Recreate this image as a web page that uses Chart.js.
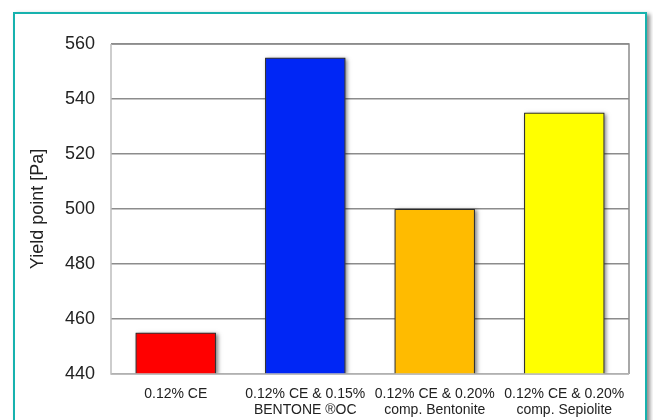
<!DOCTYPE html>
<html>
<head>
<meta charset="utf-8">
<script src="https://cdn.jsdelivr.net/npm/chart.js@4/dist/chart.umd.min.js"></script>
<style>
  html, body { margin: 0; padding: 0; background: #fff; overflow: hidden; }
  #frame {
    position: absolute; left: 13px; top: 12px; width: 630px; height: 460px;
    border: 2px solid #17b2ae; box-shadow: 3px 2px 4px rgba(0,0,0,0.45);
    background: #fff;
  }
  #wrap { position: absolute; left: 0; top: 0; width: 653px; height: 420px; }
</style>
</head>
<body>
<div id="frame"></div>
<div id="wrap"><canvas id="chart" width="653" height="420"></canvas></div>
<script>
const categories = [
    ['0.12% CE'],
    ['0.12% CE & 0.15%', 'BENTONE \u00AEOC'],
    ['0.12% CE & 0.20%', 'comp. Bentonite'],
    ['0.12% CE & 0.20%', 'comp. Sepiolite']
];
const yieldPoint = [455, 555, 500, 535];
const barColors = ['#ff0000', '#0026f5', '#ffbb00', '#ffff00'];
const yTicks = [440, 460, 480, 500, 520, 540, 560];

// soft drop shadow behind each bar, plus a box around the plot area
const barShadow = {
    id: 'barShadow',
    beforeDatasetsDraw(chart) {
        const { ctx, chartArea: a } = chart;
        const meta = chart.getDatasetMeta(0);
        ctx.save();
        ctx.beginPath();
        ctx.rect(a.left, a.top - 10, a.right - a.left, a.bottom - a.top + 10);
        ctx.clip();
        ctx.shadowColor = 'rgba(0,0,0,0.5)';
        ctx.shadowBlur = 4;
        ctx.shadowOffsetX = 2;
        ctx.shadowOffsetY = 1;
        ctx.fillStyle = '#555';
        meta.data.forEach(bar => {
            const p = bar.getProps(['x', 'y', 'width', 'base'], true);
            const bottom = Math.min(p.base, a.bottom);
            ctx.fillRect(p.x - p.width / 2, p.y, p.width, bottom - p.y);
        });
        ctx.restore();
    },
    afterDraw(chart) {
        const { ctx, chartArea: a } = chart;
        ctx.save();
        ctx.strokeStyle = '#8c8c8c';
        ctx.lineWidth = 1.5;
        ctx.beginPath();
        ctx.moveTo(a.left, a.top);
        ctx.lineTo(a.right, a.top);
        ctx.lineTo(a.right, a.bottom);
        ctx.stroke();
        ctx.strokeStyle = '#bdbdbd';
        ctx.beginPath();
        ctx.moveTo(a.left, a.top);
        ctx.lineTo(a.left, a.bottom);
        ctx.lineTo(a.right, a.bottom);
        ctx.stroke();
        ctx.restore();
    }
};

const ctx = document.getElementById('chart').getContext('2d');
new Chart(ctx, {
    type: 'bar',
    data: {
        labels: categories,
        datasets: [{
            data: yieldPoint,
            backgroundColor: barColors,
            borderColor: '#2a2a2a',
            borderWidth: 1,
            barPercentage: 0.62,
            categoryPercentage: 1
        }]
    },
    options: {
        responsive: false,
        animation: false,
        layout: { padding: { left: 0, right: 24, top: 44, bottom: 0 } },
        plugins: { legend: { display: false }, tooltip: { enabled: false } },
        scales: {
            x: {
                grid: { display: false, drawTicks: false },
                border: { display: false },
                ticks: {
                    padding: 12,
                    color: '#222',
                    maxRotation: 0,
                    font: { family: 'Liberation Sans, Arial, sans-serif', size: 14, lineHeight: 1.15 }
                },
                afterFit(axis) { axis.height = 46; }
            },
            y: {
                min: 440,
                max: 560,
                afterBuildTicks(axis) { axis.ticks = yTicks.map(v => ({ value: v })); },
                grid: { color: '#8c8c8c', lineWidth: 1.5, drawTicks: false },
                border: { display: false },
                ticks: {
                    padding: 16,
                    color: '#222',
                    font: { family: 'Liberation Sans, Arial, sans-serif', size: 18 }
                },
                title: {
                    display: true,
                    text: 'Yield point [Pa]',
                    color: '#222',
                    padding: { top: 27, bottom: 0 },
                    font: { family: 'Liberation Sans, Arial, sans-serif', size: 18 }
                },
                afterFit(axis) { axis.width = 111; }
            }
        }
    },
    plugins: [barShadow]
});
</script>
</body>
</html>
